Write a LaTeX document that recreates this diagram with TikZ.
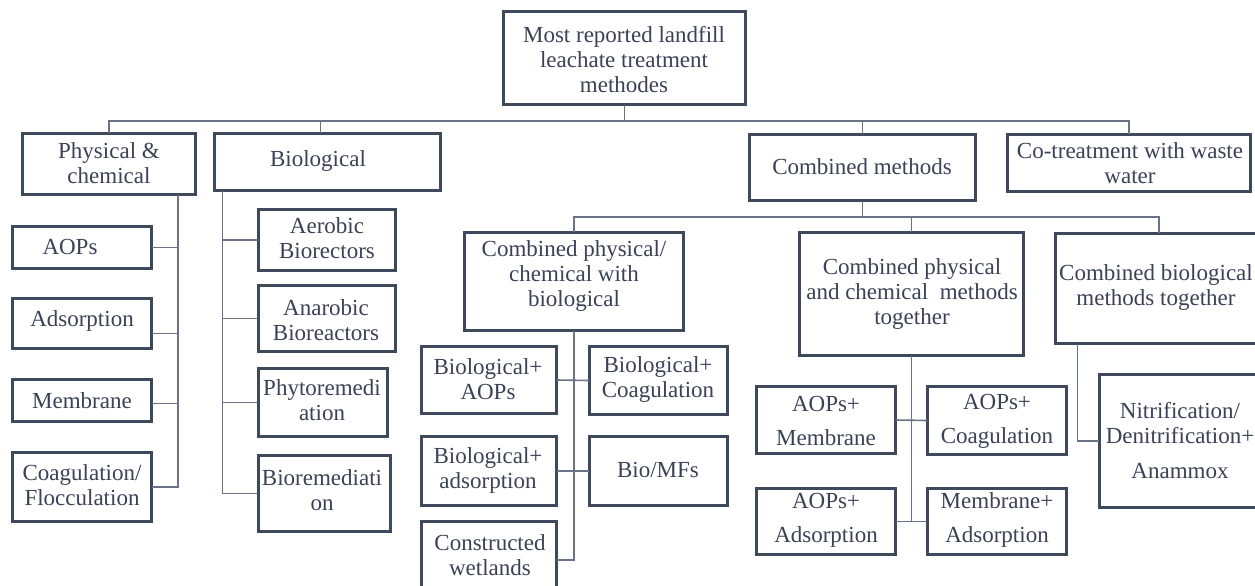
\documentclass[tikz,border=0pt]{standalone}
\usepackage{fontspec}
\setmainfont{Liberation Serif}
\usetikzlibrary{calc}
\definecolor{boxc}{HTML}{3E4A5B}
\definecolor{connc}{HTML}{6A7385}
\definecolor{txtc}{HTML}{3A4256}
\tikzset{
  box/.style={draw=boxc, line width=2.6pt, fill=white, inner sep=0pt, outer sep=0pt, anchor=north west},
  conn/.style={draw=connc, line width=1.6pt},
  txt/.style={text=txtc, align=center, inner sep=0pt, font=\fontsize{23}{25}\selectfont},
  wide/.style={text=txtc, align=center, inner sep=0pt, font=\fontsize{23}{34}\selectfont}
}
\newcommand{\mybox}[5]{\node[box, minimum width={#4pt-#2pt-2.6pt}, minimum height={#5pt-#3pt-2.6pt}] (#1) at ({#2+1.3},{#3+1.3}) {};}
\begin{document}
\begin{tikzpicture}[x=1pt,y=-1pt]
\clip (0,0) rectangle (1255,586);
\fill[white] (0,0) rectangle (1255,586);
% boxes
\mybox{root}{502}{10}{747}{106}
\mybox{phys}{21}{132}{197}{196}
\mybox{bio}{213}{132}{442}{192}
\mybox{comb}{748}{133}{977}{202}
\mybox{cot}{1006}{133}{1252}{193}
\mybox{aops}{11}{225}{153}{270}
\mybox{ads}{11}{297}{153}{350}
\mybox{mem}{11}{378}{153}{423}
\mybox{coag}{11}{451}{153}{523}
\mybox{aer}{257}{208}{397}{272}
\mybox{ana}{257}{284}{397}{353}
\mybox{phyto}{257}{367}{389}{438}
\mybox{biorem}{257}{454}{392}{533}
\mybox{cpcb}{463}{231}{685}{332}
\mybox{cpc}{798}{231}{1025}{357}
\mybox{cbio}{1054}{232}{1264}{345}
\mybox{bioaop}{420}{345}{558}{415}
\mybox{biocoag}{588}{345}{729}{416}
\mybox{bioads}{420}{435}{558}{507}
\mybox{biomf}{588}{435}{729}{507}
\mybox{wet}{420}{520}{558}{600}
\mybox{aopmem}{755}{385}{897}{455}
\mybox{aopcoag}{926}{385}{1068}{456}
\mybox{aopads}{755}{487}{897}{556}
\mybox{memads}{926}{487}{1068}{556}
\mybox{nit}{1098}{373}{1268}{509}
% texts
\node[txt] (troot) at (624,60) {Most reported landfill\\leachate treatment\\methodes};
\node[txt] (tphys) at (109,163) {Physical \&\\chemical};
\node[txt] (tbio) at (318,161) {Biological};
\node[txt] (tcomb) at (862,167) {Combined methods};
\node[txt] (tcot) at (1130,163) {Co-treatment with waste\\water};
\node[txt] (taops) at (70,247) {AOPs};
\node[txt] (tads) at (82,321) {Adsorption};
\node[txt] (tmem) at (82,401) {Membrane};
\node[txt] (tcoag) at (82,485) {Coagulation/\\Flocculation};
\node[txt] (taer) at (327,238) {Aerobic\\Biorectors};
\node[txt] (tana) at (326,320) {Anarobic\\Bioreactors};
\node[txt] (tphyto) at (322,400) {Phytoremedi\\ation};
\node[txt] (tbiorem) at (322,490) {Bioremediati\\on};
\node[txt] (tcpcb) at (574,276) {Combined physical/\\chemical with\\biological};
\node[txt] (tcpc) at (912,294) {Combined physical\\and chemical\ \ methods\\together};
\node[txt] (tcbio) at (1156,287) {Combined biological\\methods together};
\node[txt] (tbioaop) at (488,379) {Biological+\\AOPs};
\node[txt] (tbiocoag) at (658,379) {Biological+\\Coagulation};
\node[txt] (tbioads) at (488,470) {Biological+\\adsorption};
\node[txt] (tbiomf) at (658,470) {Bio/MFs};
\node[txt] (twet) at (490,555) {Constructed\\wetlands};
\node[wide] (taopmem) at (826,421) {AOPs+\\Membrane};
\node[wide] (taopcoag) at (997,421) {AOPs+\\Coagulation};
\node[wide] (taopads) at (826,520) {AOPs+\\Adsorption};
\node[wide] (tmemads) at (997,520) {Membrane+\\Adsorption};
\node[txt] (tnit) at (1180,441) {Nitrification/\\Denitrification+\\[10pt]Anammox};
% connectors level 1
\coordinate (bus1) at (0,121);
\coordinate (biotop) at ($(bio.north west)+(106,0)$);
\draw[conn] (root.south) -- (root.south |- bus1);
\draw[conn] (phys.north) -- (phys.north |- bus1) -- (cot.north |- bus1) -- (cot.north);
\draw[conn] (biotop) -- (biotop |- bus1);
\draw[conn] (comb.north) -- (comb.north |- bus1);
% level 2
\coordinate (bus2) at (0,217);
\draw[conn] (comb.south) -- (comb.south |- bus2);
\draw[conn] (cpcb.north) -- (cpcb.north |- bus2) -- (cbio.north |- bus2) -- (cbio.north);
\draw[conn] (cpc.north) -- (cpc.north |- bus2);
% physical & chemical children
\coordinate (pt) at ($(phys.south east)+(-18,0)$);
\coordinate (adsc) at ($(ads.east)+(0,10)$);
\coordinate (memc) at ($(mem.east)+(0,3)$);
\draw[conn] (pt) |- (coag.east);
\draw[conn] (aops.east) -- (aops.east -| pt);
\draw[conn] (adsc) -- (adsc -| pt);
\draw[conn] (memc) -- (memc -| pt);
% biological children
\coordinate (bt) at ($(bio.south west)+(8,0)$);
\draw[conn] (bt) |- (biorem.west);
\draw[conn] (aer.west) -- (aer.west -| bt);
\draw[conn] (ana.west) -- (ana.west -| bt);
\draw[conn] (phyto.west) -- (phyto.west -| bt);
% combined physical/chemical with biological children
\draw[conn] (cpcb.south) |- (wet.east);
\draw[conn] (bioaop.east) -- (biocoag.west);
\draw[conn] (bioads.east) -- (biomf.west);
% combined physical and chemical children
\draw[conn] (cpc.south) -- (cpc.south |- memads.west);
\draw[conn] (aopmem.east) -- (aopcoag.west);
\draw[conn] (aopads.east) -- (memads.west);
% combined biological child
\coordinate (cbt) at ($(cbio.south west)+(22,0)$);
\draw[conn] (cbt) |- (nit.west);
\end{tikzpicture}
\end{document}
